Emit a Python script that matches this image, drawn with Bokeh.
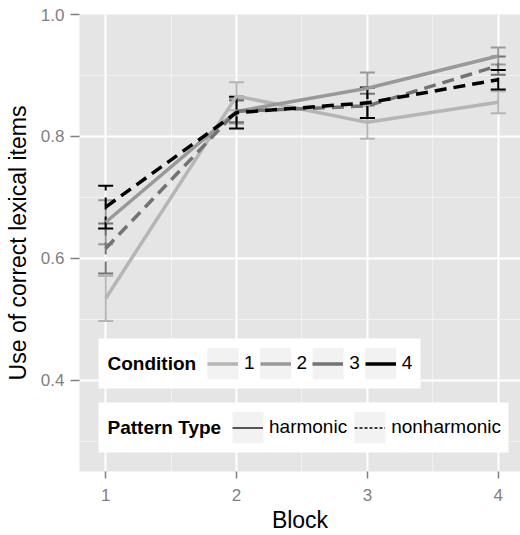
from bokeh.plotting import figure
from bokeh.models import (ColumnDataSource, Whisker, TeeHead, Legend, LegendItem,
                          BoxAnnotation, Label, FixedTicker, Range1d)
from bokeh.embed import file_html
from bokeh.resources import INLINE

# ---------------- data ----------------
blocks = [1, 2, 3, 4]
conditions = ["1", "2", "3", "4"]
pattern_of_condition = ["harmonic", "harmonic", "nonharmonic", "nonharmonic"]
pattern_types = ["harmonic", "nonharmonic"]

cond1_mean = [0.534, 0.866, 0.823, 0.856]
cond1_se = [0.037, 0.023, 0.027, 0.018]
cond2_mean = [0.659, 0.841, 0.879, 0.932]
cond2_se = [0.036, 0.020, 0.026, 0.014]
cond3_mean = [0.616, 0.841, 0.850, 0.916]
cond3_se = [0.041, 0.018, 0.020, 0.015]
cond4_mean = [0.684, 0.839, 0.855, 0.893]
cond4_se = [0.035, 0.026, 0.025, 0.016]

means = [cond1_mean, cond2_mean, cond3_mean, cond4_mean]
ses = [cond1_se, cond2_se, cond3_se, cond4_se]

x_ticks = [1, 2, 3, 4]
x_minor = [1.5, 2.5, 3.5]
y_ticks = [0.4, 0.6, 0.8, 1.0]
y_minor = [0.3, 0.5, 0.7, 0.9]

# ---------------- style ----------------
FONT = "Liberation Sans"
colors = ["#b5b5b5", "#999999", "#737373", "#000000"]
dash_of = {"harmonic": "solid", "nonharmonic": "12 7"}
legend_dash_of = {"harmonic": "solid", "nonharmonic": "3 2"}

p = figure(width=520, height=535,
           x_range=Range1d(0.8, 4.17), y_range=Range1d(0.25, 1.0),
           output_backend="svg", toolbar_location=None,
           min_border_left=79, min_border_right=0,
           min_border_top=14, min_border_bottom=64)

p.background_fill_color = "#e5e5e5"
p.border_fill_color = "white"
p.outline_line_color = None

p.xaxis.ticker = FixedTicker(ticks=x_ticks, minor_ticks=x_minor)
p.yaxis.ticker = FixedTicker(ticks=y_ticks, minor_ticks=y_minor)
p.yaxis.major_label_overrides = {v: f"{v:.1f}" for v in y_ticks}

for ax in (p.xaxis, p.yaxis):
    ax.axis_line_color = None
    ax.major_tick_line_color = "#7f7f7f"
    ax.major_tick_line_width = 1.5
    ax.major_tick_in = 0
    ax.minor_tick_line_color = None
    ax.major_label_text_color = "#7f7f7f"
    ax.major_label_text_font = FONT
    ax.major_label_text_font_size = "17px"
    ax.axis_label_text_font = FONT
    ax.axis_label_text_font_size = "23px"
    ax.axis_label_text_font_style = "normal"
    ax.axis_label_text_color = "black"

p.xaxis.major_tick_out = 7
p.xaxis.major_label_standoff = 10
p.xaxis.axis_label_standoff = 3
p.yaxis.major_tick_out = 9
p.yaxis.major_label_standoff = 6
p.yaxis.axis_label_standoff = 7
p.xaxis.axis_label = "Block"
p.yaxis.axis_label = "Use of correct lexical items"

for g in (p.xgrid, p.ygrid):
    g.grid_line_color = "white"
    g.grid_line_width = 2
    g.minor_grid_line_color = "#f2f2f2"
    g.minor_grid_line_width = 1

# ---------------- error bars ----------------
for i, cond in enumerate(conditions):
    up = [m + s for m, s in zip(means[i], ses[i])]
    lo = [m - s for m, s in zip(means[i], ses[i])]
    src = ColumnDataSource(dict(block=blocks, upper=up, lower=lo))
    dash = dash_of[pattern_of_condition[i]]
    w = Whisker(source=src, base="block", upper="upper", lower="lower",
                dimension="height", line_color=colors[i], line_width=2,
                line_dash=dash,
                upper_head=TeeHead(size=15, line_color=colors[i], line_width=2),
                lower_head=TeeHead(size=15, line_color=colors[i], line_width=2))
    p.add_layout(w)

# ---------------- lines ----------------
for i, cond in enumerate(conditions):
    src = ColumnDataSource(dict(block=blocks, mean=means[i]))
    p.line("block", "mean", source=src, line_color=colors[i], line_width=3.5,
           line_dash=dash_of[pattern_of_condition[i]])

# ---------------- legends ----------------
# frame-relative screen coordinates (origin at bottom-left of plot area)
def screen_box(left, right, bottom, top, color):
    return BoxAnnotation(left=left, right=right, bottom=bottom, top=top,
                         left_units="screen", right_units="screen",
                         bottom_units="screen", top_units="screen",
                         fill_color=color, fill_alpha=1, line_color=None,
                         level="underlay")

KEY = 31
cond_leg_x, cond_leg_y, cond_pitch = 128, 92.5, 52.6
pat_leg_x, pat_leg_y, pat_pitch = 153, 28.5, 122

p.add_layout(screen_box(19, 341, 83, 133, "white"))
p.add_layout(screen_box(19, 429, 19, 69, "white"))
for k in range(len(conditions)):
    x0 = cond_leg_x + k * cond_pitch
    p.add_layout(screen_box(x0, x0 + KEY, cond_leg_y, cond_leg_y + KEY, "#f2f2f2"))
for k in range(len(pattern_types)):
    x0 = pat_leg_x + k * pat_pitch
    p.add_layout(screen_box(x0, x0 + KEY, pat_leg_y, pat_leg_y + KEY, "#f2f2f2"))

nan = float("nan")
cond_items = []
for i, cond in enumerate(conditions):
    r = p.line(x=[nan], y=[nan], line_color=colors[i], line_width=3.5)
    cond_items.append(LegendItem(label=cond, renderers=[r]))
pat_items = []
for pt in pattern_types:
    r = p.line(x=[nan], y=[nan], line_color="black", line_width=1.3,
               line_dash=legend_dash_of[pt])
    pat_items.append(LegendItem(label=pt, renderers=[r]))

common = dict(orientation="horizontal", glyph_width=KEY, glyph_height=KEY,
              label_standoff=6, padding=0, margin=0, label_width=1,
              background_fill_alpha=0, border_line_color=None,
              label_text_font=FONT, label_text_font_size="19px",
              label_text_color="black", label_height=KEY)
leg_c = Legend(items=cond_items, location=(cond_leg_x, cond_leg_y), spacing=5, **common)
leg_p = Legend(items=pat_items, location=(pat_leg_x, pat_leg_y), spacing=7, **common)
p.add_layout(leg_c)
p.add_layout(leg_p)

for txt, yy in (("Condition", 108), ("Pattern Type", 44)):
    p.add_layout(Label(x=28, y=yy, x_units="screen", y_units="screen", text=txt,
                       text_font=FONT, text_font_size="19px", text_font_style="bold",
                       text_baseline="middle", text_color="black"))

open("out.html", "w").write(file_html(p, INLINE))
